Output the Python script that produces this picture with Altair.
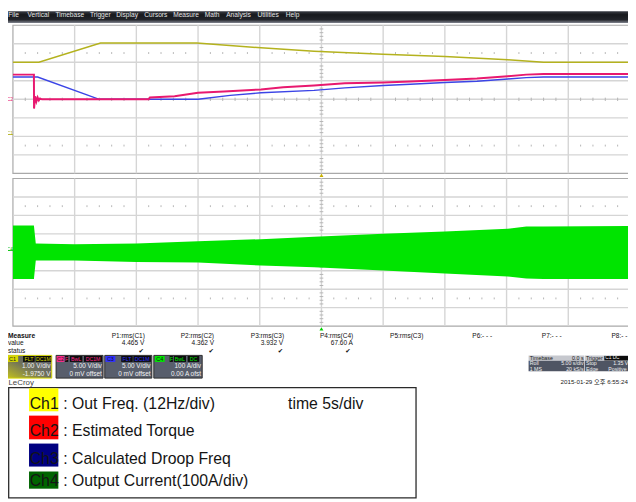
import altair as alt
import pandas as pd

OFF = 8                       # page margin: reference pixel -> chart pixel
W, H = 628, 494
FONT = "Liberation Sans"
FONT_MIX = "Liberation Sans, Noto Sans CJK KR"

# ---------------- data ----------------
grid_t = [0, 5, 10, 15, 20, 25, 30, 35, 40, 45, 50]        # s (5 s/div)
grid_div = [-4, -3, -2, -1, 0, 1, 2, 3, 4]

# Ch1 : output frequency [Hz] (12 Hz/div)
ch1_t = [0, 2.1, 7.1, 14.9, 20.1, 24.4, 30.0, 35.0, 40.1, 43.0, 50]
ch1_hz = [46.0, 46.0, 58.5, 58.5, 55.4, 53.2, 51.2, 49.7, 47.6, 46.0, 46.0]

# Ch2 : estimated torque [V] (5 V/div)
ch2_t = [0, 1.70, 1.71, 1.80, 1.90, 2.00, 2.10, 2.20, 2.35, 11.0, 11.1, 13.1, 15.0,
         17.1, 20.1, 21.9, 24.4, 26.9, 30.0, 32.2, 35.0, 37.6, 40.1, 41.6, 43.0, 50]
ch2_v = [6.67, 6.67, -2.5, 0.8, -0.6, 0.5, -0.3, 0.2, 0.0, 0.0, 0.48, 0.80, 1.76,
         2.13, 2.67, 3.28, 3.73, 4.35, 4.53, 4.80, 5.23, 5.60, 6.21, 6.67, 6.83, 6.83]

# Ch3 : calculated droop frequency [V] (5 V/div)
ch3_t = [0, 2.0, 7.0, 15.0, 17.6, 20.1, 24.4, 26.9, 30.0, 32.2, 35.0, 37.6, 40.1, 41.6, 43.0, 50]
ch3_v = [6.03, 6.03, 0.0, 0.0, 1.07, 1.76, 2.40, 3.10, 3.73, 4.08, 4.53, 4.88, 5.49, 5.87, 6.03, 6.03]

# Ch4 : output current envelope [A] (100 A/div)
ch4_t = [0, 1.70, 1.85, 5.0, 10.0, 15.0, 20.1, 24.4, 30.0, 35.0, 40.1, 41.6, 43.0, 50]
ch4_hi = [145, 145, 48, 44, 48, 60, 71, 84, 101, 113, 128, 140, 140, 142]
ch4_lo = [-145, -145, -45, -45, -52, -56, -72, -81, -99, -115, -131, -142, -145, -145]

menu_items = ["File", "Vertical", "Timebase", "Trigger", "Display", "Cursors",
              "Measure", "Math", "Analysis", "Utilities", "Help"]
meas_rows = ["Measure", "value", "status"]
meas_params = ["P1:rms(C1)", "P2:rms(C2)", "P3:rms(C3)", "P4:rms(C4)",
               "P5:rms(C3)", "P6:- - -", "P7:- - -", "P8:- - -"]
meas_values = ["4.465 V", "4.362 V", "3.932 V", "67.60 A"]
chan_names = ["C1", "C2", "C3", "C4"]
chan_flags = [["FLT", "DC1M"], ["F", "BwL", "DC1M"], ["FLT", "DC1M"], ["F", "BwL", "DC"]]
chan_vdiv = ["1.00 V/div", "5.00 V/div", "5.00 V/div", "100 A/div"]
chan_offset = ["-1.9750 V", "0 mV offset", "0 mV offset", "0.00 A ofst"]
tb_left = ["Timebase", "Roll", "1 MS"]
tb_right = ["0.0 s", "5.00 s/div", "20 kS/s"]
trig_left = ["Trigger", "Stop", "Edge"]
trig_right = ["C1 DC", "1.35 V", "Positive"]
date_text = "2015-01-29 오후 6:55:24"
brand = "LeCroy"
legend_tags = ["Ch1", "Ch2", "Ch3", "Ch4"]
legend_desc = [": Out Freq. (12Hz/div)", ": Estimated Torque",
               ": Calculated Droop Freq", ": Output Current(100A/div)"]
time_note = "time 5s/div"

# ---------------- layout (reference pixels) ----------------
menu_x = [8.3, 27.7, 56, 91, 117.7, 146, 175.3, 207.3, 229, 260.7, 289.3]
meas_px = [113, 183, 254, 324, 395, 478.3, 548.7, 619.3]
meas_vx = [146, 216.7, 286.7, 357.3]
meas_cx = [143, 213.7, 284, 352.3]
box_x = [(6, 52.3), (56.7, 104.3), (106, 153.7), (155.7, 204.7)]
chip_x = [(6.7, 18.3), (57.3, 65), (106.7, 116.7), (156.7, 166.7)]
flag_x = [[(23.3, 35), (36, 51.7)], [(65.7, 69), (70.7, 83.3), (85, 103.3)],
          [(122.7, 134.3), (135, 152.7)], [(171.7, 175), (176, 188.3), (190, 201.7)]]
chan_col = ["#d8d800", "#ff2a8c", "#3030ff", "#00e600"]
chip_txt = ["#222222", "#222222", "#101030", "#102010"]
leg_chip_y = [(390, 413.3), (417.7, 441.7), (446, 469.3), (474.3, 491.7)]
leg_base_y = [410.7, 438.3, 466.7, 489.3]
leg_fill = ["#ffff00", "#ff0000", "#000080", "#006400"]

def p(v):
    return v - OFF

T_SCALE = alt.Scale(domain=[0, 50], range=[p(13), p(638)], nice=False, zero=False)
UP_RANGE = [p(172.3), p(22.3)]
LO_RANGE = [p(327), p(177.5)]
UP_DIV = alt.Scale(domain=[-4, 4], range=UP_RANGE, nice=False, zero=False)
UP_V = alt.Scale(domain=[-20, 20], range=UP_RANGE, nice=False, zero=False)
UP_HZ = alt.Scale(domain=[-26.0, 70.0], range=UP_RANGE, nice=False, zero=False)
LO_DIV = alt.Scale(domain=[-4, 4], range=LO_RANGE, nice=False, zero=False)
LO_A = alt.Scale(domain=[-400, 400], range=LO_RANGE, nice=False, zero=False)


def TX(col):
    return alt.X(f"{col}:Q", scale=T_SCALE, axis=None)


def texts(xs, ys, labels, size=6.6, color="#111111", align="left",
          baseline="middle", weight="normal", font=FONT):
    df = pd.DataFrame({"x": [p(v) for v in xs], "y": [p(v) for v in ys], "text": labels})
    return alt.Chart(df).mark_text(align=align, baseline=baseline, fontSize=size,
                                   color=color, fontWeight=weight, font=font).encode(
        x=alt.X("x:Q", scale=None), y=alt.Y("y:Q", scale=None), text="text:N")


def rects(items, **kw):
    df = pd.DataFrame({"x0": [p(a[0]) for a in items], "y0": [p(a[1]) for a in items],
                       "x1": [p(a[2]) for a in items], "y1": [p(a[3]) for a in items],
                       "fill": [a[4] for a in items]})
    return alt.Chart(df).mark_rect(**kw).encode(
        x=alt.X("x0:Q", scale=None), x2="x1:Q",
        y=alt.Y("y0:Q", scale=None), y2="y1:Q",
        fill=alt.Fill("fill:N", scale=None))


def panel(ys):
    out = []
    frame = pd.DataFrame({"t0": [0], "t1": [50], "lo": [-4], "hi": [4]})
    out.append(alt.Chart(frame).mark_rect(fill="white", stroke="#a9a9a9", strokeWidth=1.2).encode(
        x=TX("t0"), x2="t1:Q", y=alt.Y("lo:Q", scale=ys, axis=None), y2="hi:Q"))
    vdf = pd.DataFrame({"t": grid_t[1:-1], "lo": [-4] * 9, "hi": [4] * 9})
    out.append(alt.Chart(vdf).mark_rule(color="#d5d5d5", strokeWidth=1.4).encode(
        x=TX("t"), y=alt.Y("lo:Q", scale=ys, axis=None), y2="hi:Q"))
    hdf = pd.DataFrame({"d": grid_div[1:-1], "t0": [0] * 7, "t1": [50] * 7})
    out.append(alt.Chart(hdf).mark_rule(color="#d5d5d5", strokeWidth=1.4).encode(
        y=alt.Y("d:Q", scale=ys, axis=None), x=TX("t0"), x2="t1:Q"))
    minor_t = [i for i in range(51) if i % 5]
    rows = []
    for c, h in ((0, 0.09), (-2.5, 0.05), (2.5, 0.05)):
        rows += [{"t": t, "lo": c - h, "hi": c + h} for t in minor_t]
    out.append(alt.Chart(pd.DataFrame(rows)).mark_rule(color="#b5b5b5", strokeWidth=1).encode(
        x=TX("t"), y=alt.Y("lo:Q", scale=ys, axis=None), y2="hi:Q"))
    vt = pd.DataFrame({"d": [k / 5 for k in range(-20, 21) if k % 5],
                       "t0": 24.85, "t1": 25.15})
    out.append(alt.Chart(vt).mark_rule(color="#b5b5b5", strokeWidth=1).encode(
        y=alt.Y("d:Q", scale=ys, axis=None), x=TX("t0"), x2="t1:Q"))
    return out


layers = []

# menu bar
layers.append(alt.Chart(pd.DataFrame({"a": [0]})).mark_rect(
    fill=alt.LinearGradient(gradient="linear", x1=0, x2=0, y1=0, y2=1,
                            stops=[alt.GradientStop(offset=0, color="#3a3d45"),
                                   alt.GradientStop(offset=0.3, color="#17191d"),
                                   alt.GradientStop(offset=0.72, color="#22242a"),
                                   alt.GradientStop(offset=1, color="#80848e")])).encode(
    x=alt.value(0), x2=alt.value(W), y=alt.value(0), y2=alt.value(p(20))))
layers.append(texts(menu_x, [12] * len(menu_x), menu_items, size=6.7, color="#e6e6e6"))

# panels
layers += panel(UP_DIV)
layers += panel(LO_DIV)

# traces
layers.append(alt.Chart(pd.DataFrame({"t": ch1_t, "v": ch1_hz})).mark_line(
    color="#b4b21e", strokeWidth=1.5).encode(x=TX("t"), y=alt.Y("v:Q", scale=UP_HZ, axis=None)))
layers.append(alt.Chart(pd.DataFrame({"t": ch3_t, "v": ch3_v})).mark_line(
    color="#3b44e6", strokeWidth=1.4).encode(x=TX("t"), y=alt.Y("v:Q", scale=UP_V, axis=None)))
layers.append(alt.Chart(pd.DataFrame({"t": ch2_t, "v": ch2_v})).mark_line(
    color="#e8196f", strokeWidth=2.0).encode(x=TX("t"), y=alt.Y("v:Q", scale=UP_V, axis=None)))
layers.append(alt.Chart(pd.DataFrame({"t": ch4_t, "hi": ch4_hi, "lo": ch4_lo})).mark_area(
    color="#00e400", opacity=1).encode(x=TX("t"), y=alt.Y("hi:Q", scale=LO_A, axis=None), y2="lo:Q"))

# trigger markers
layers.append(alt.Chart(pd.DataFrame({"t": [25], "d": [-4.1]})).mark_point(
    shape="triangle-up", filled=True, size=16, color="#c8b000", opacity=1).encode(
    x=TX("t"), y=alt.Y("d:Q", scale=UP_DIV, axis=None)))
layers.append(alt.Chart(pd.DataFrame({"t": [25], "d": [-4.15]})).mark_point(
    shape="triangle-up", filled=True, size=16, color="#00d000", opacity=1).encode(
    x=TX("t"), y=alt.Y("d:Q", scale=LO_DIV, axis=None)))

# channel ground markers
layers.append(texts([13], [97.3], ["C2"], size=5, color="#e8196f", align="right"))
layers.append(texts([13], [131], ["C1"], size=5, color="#b4b21e", align="right"))
layers.append(texts([13], [248.5], ["C4"], size=5, color="#00c000", align="right"))
layers.append(rects([(8, 132.6, 13, 133.4, "#b4b21e"), (8, 250, 13, 250.8, "#00c000")]))

# measure table
layers.append(texts([8], [336.7], [meas_rows[0]], size=6.8, weight="bold"))
layers.append(texts([8, 8], [344.3, 352.3], meas_rows[1:], size=6.6))
layers.append(texts(meas_px, [336.7] * 8, meas_params, size=6.6))
layers.append(texts(meas_vx, [344.3] * 4, meas_values, size=6.6, align="right"))
layers.append(texts(meas_cx, [352.3] * 4, ["✔"] * 4, size=6.5, align="center",
                    font="DejaVu Sans"))

# channel boxes
layers.append(rects([(x0, 356.7, x1, 379.7, "#585e6c") for (x0, x1) in box_x[1:]],
                    stroke="#2c2c2c", strokeWidth=1))
layers.append(alt.Chart(pd.DataFrame({"a": [0]})).mark_rect(
    stroke="#d4d400", strokeWidth=1,
    fill=alt.LinearGradient(gradient="linear", x1=0, x2=0.9, y1=1, y2=0.1,
                            stops=[alt.GradientStop(offset=0, color="#c4c21c"),
                                   alt.GradientStop(offset=0.55, color="#6e705c"),
                                   alt.GradientStop(offset=1, color="#5a5f6c")])).encode(
    x=alt.value(p(box_x[0][0])), x2=alt.value(p(box_x[0][1])),
    y=alt.value(p(356.7)), y2=alt.value(p(379.7))))
chip_items, flag_items = [], []
for i in range(4):
    chip_items.append((chip_x[i][0], 357.3, chip_x[i][1], 363.3, chan_col[i]))
    for (f0, f1) in flag_x[i]:
        flag_items.append((f0, 357.3, f1, 363.3, "#0c0c0c"))
layers.append(rects(chip_items))
layers.append(rects(flag_items))
for i in range(4):
    layers.append(texts([(chip_x[i][0] + chip_x[i][1]) / 2], [360.4], [chan_names[i]],
                        size=5.5, color=chip_txt[i], align="center"))
    layers.append(texts([(a + b) / 2 for (a, b) in flag_x[i]], [360.4] * len(flag_x[i]),
                        chan_flags[i], size=5.3, color=chan_col[i], align="center"))
    layers.append(texts([box_x[i][1] - 1.3] * 2, [367.9, 375.3],
                        [chan_vdiv[i], chan_offset[i]], size=6.5, color="#f2f2f2",
                        align="right"))

# timebase / trigger boxes
layers.append(rects([(535.3, 356.7, 591.7, 362.2, "#c6c8ce"), (535.3, 362.2, 591.7, 372.7, "#4f5563"),
                     (592.3, 356.7, 640, 362.2, "#c6c8ce"), (592.3, 362.2, 640, 372.7, "#4f5563"),
                     (612, 357.2, 640, 361.8, "#0c0c0c")]))
layers.append(texts([536.5, 593.5], [359.5, 359.5], [tb_left[0], trig_left[0]], size=5.4,
                    color="#1a1a1a"))
layers.append(texts([591], [359.5], [tb_right[0]], size=5.4, color="#1a1a1a", align="right"))
layers.append(texts([613], [359.5], [trig_right[0]], size=4.8, color="#f0f0f0"))
layers.append(texts([536.5, 536.5, 593.5, 593.5], [364.9, 370.1, 364.9, 370.1],
                    tb_left[1:] + trig_left[1:], size=5.3, color="#f0f0f0"))
layers.append(texts([591, 591], [364.9, 370.1], tb_right[1:], size=5.3, color="#f0f0f0",
                    align="right"))
layers.append(texts([621, 616], [364.9, 370.1], trig_right[1:], size=5.3, color="#f0f0f0"))
layers.append(texts([567.7], [384], [date_text], size=6.3, color="#222222", font=FONT_MIX))
layers.append(texts([8.5], [384.3], [brand], size=8, color="#444444"))

# annotation legend
layers.append(rects([(8.7, 389.3, 421.3, 501, "white")], stroke="#2a2a2a", strokeWidth=1.3))
layers.append(rects([(29.3, a, 59, b, c) for (a, b), c in zip(leg_chip_y, leg_fill)]))
layers.append(texts([30] * 4, leg_base_y, legend_tags, size=16, color="#151515",
                    baseline="alphabetic"))
layers.append(texts([64] * 4, leg_base_y, legend_desc, size=16, color="#151515",
                    baseline="alphabetic"))
layers.append(texts([291.7], [leg_base_y[0]], [time_note], size=16, color="#151515",
                    baseline="alphabetic"))

chart = alt.layer(*layers).resolve_scale(x="independent", y="independent").properties(
    width=W, height=H, padding=0, autosize=alt.AutoSizeParams(type="none"),
    background="white").configure_view(stroke=None)

chart.save("out.html", embed_options={"renderer": "svg", "actions": False})
